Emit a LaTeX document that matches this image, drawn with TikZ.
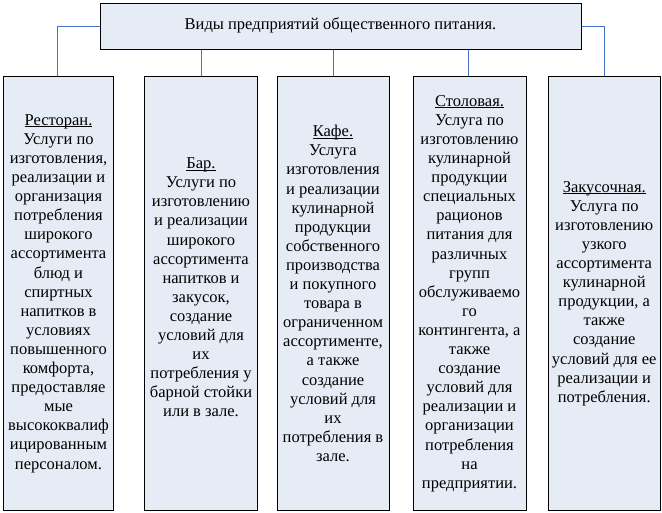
\documentclass[tikz,border=0pt]{standalone}
\usepackage{fontspec}
\setmainfont{Liberation Serif}
\definecolor{boxfill}{HTML}{E6ECF6}
\definecolor{linkblue}{HTML}{4472C4}
\newcommand\myul[1]{\underline{\smash{#1}}\vphantom{#1}}
\begin{document}
\begin{tikzpicture}[x=1pt,y=-1pt,
  card/.style={draw=black,line width=1pt,fill=boxfill},
  txt/.style={align=center,inner sep=0pt,font=\fontsize{16.5}{19.1}\selectfont},
  link/.style={draw=linkblue,line width=0.9pt}]
\useasboundingbox (0,0) rectangle (662,512);
% top box
\node[card,minimum width=481pt,minimum height=46pt,anchor=north west,inner sep=0pt] (top) at (100,3) {};
\node[txt] (toptxt) at (340.5,25) {Виды предприятий общественного питания.};
% lower boxes
\node[card,minimum width=110pt,minimum height=434pt,anchor=north west,inner sep=0pt] (b1) at (3,76) {};
\node[card,minimum width=113pt,minimum height=434pt,anchor=north west,inner sep=0pt] (b2) at (144,76) {};
\node[card,minimum width=112pt,minimum height=434pt,anchor=north west,inner sep=0pt] (b3) at (276.5,76) {};
\node[card,minimum width=113pt,minimum height=434pt,anchor=north west,inner sep=0pt] (b4) at (412.5,76) {};
\node[card,minimum width=112.5pt,minimum height=434pt,anchor=north west,inner sep=0pt] (b5) at (547.5,76) {};
% connectors
\coordinate (c1) at (57,26);
\coordinate (c5) at (604,26);
\draw[link] (top.west |- c1) -- (c1) -- (c1 |- b1.north);
\draw[link] (top.south -| 201,0) -- (201,76);
\draw[link] (top.south -| 333.5,0) -- (333.5,76);
\draw[link] (top.south -| 468,0) -- (468,76);
\draw[link] (top.east |- c5) -- (c5) -- (c5 |- b5.north);
% texts
\node[txt] (t1) at (b1.center) {\myul{Ресторан.}\\Услуги по\\изготовления,\\реализации и\\организация\\потребления\\широкого\\ассортимента\\блюд и\\спиртных\\напитков в\\условиях\\повышенного\\комфорта,\\предоставляе\\мые\\высококвалиф\\ицированным\\персоналом.};
\node[txt] (t2) at ([yshift=6pt]b2.center) {\myul{Бар.}\\Услуги по\\изготовлению\\и реализации\\широкого\\ассортимента\\напитков и\\закусок,\\создание\\условий для\\их\\потребления у\\барной стойки\\или в зале.};
\node[txt] (t3) at (b3.center) {\myul{Кафе.}\\Услуга\\изготовления\\и реализации\\кулинарной\\продукции\\собственного\\производства\\и покупного\\товара в\\ограниченном\\ассортименте,\\а также\\создание\\условий для\\их\\потребления в\\зале.};
\node[txt] (t4) at (b4.center) {\myul{Столовая.}\\Услуга по\\изготовлению\\кулинарной\\продукции\\специальных\\рационов\\питания для\\различных\\групп\\обслуживаемо\\го\\контингента, а\\также\\создание\\условий для\\реализации и\\организации\\потребления\\на\\предприятии.};
\node[txt] (t5) at (b5.center) {\myul{Закусочная.}\\Услуга по\\изготовлению\\узкого\\ассортимента\\кулинарной\\продукции, а\\также\\создание\\условий для ее\\реализации и\\потребления.};
\end{tikzpicture}
\end{document}
